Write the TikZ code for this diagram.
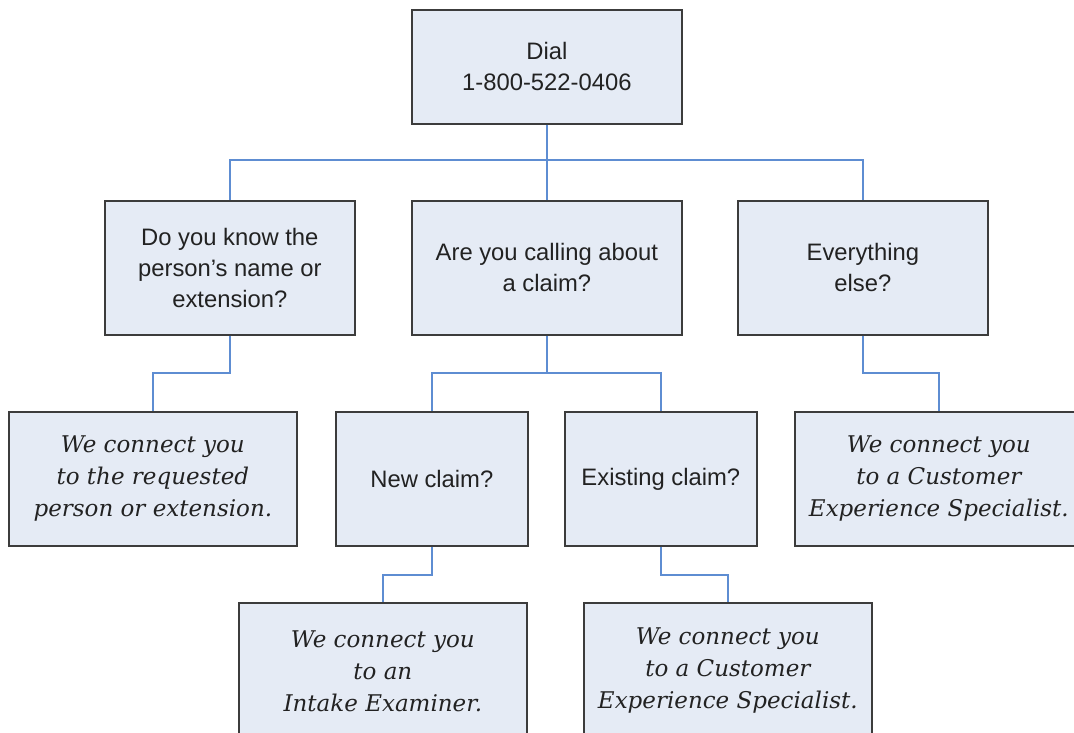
\documentclass[tikz,border=0pt]{standalone}
\usepackage{fontspec}
\setmainfont{Liberation Sans}
\newfontfamily\serifit{DejaVu Serif}
\definecolor{boxfill}{HTML}{E5EBF5}
\definecolor{boxline}{HTML}{3C3C3C}
\definecolor{conn}{HTML}{5E8DD2}
\definecolor{txt}{HTML}{222222}
\begin{document}
\begin{tikzpicture}[x=1pt,y=-1pt,
  box/.style={draw=boxline, fill=boxfill, line width=1.7pt, inner sep=0pt,
    anchor=north west, align=center, text=txt},
  q/.style={box, font=\fontsize{23.8}{31}\selectfont},
  a/.style={box, font=\serifit\itshape\fontsize{23}{32}\selectfont},
  link/.style={draw=conn, line width=1.6pt}]
\fill[white] (0,0) rectangle (1074,733);
\useasboundingbox (0,0) rectangle (1074,733);
\clip (0,0) rectangle (1074,733);
% level 1
\node[q, minimum width=270, minimum height=114] (dial) at (411,9) {Dial\\1-800-522-0406};
% level 2
\node[q, minimum width=250, minimum height=134] (know) at (104,200) {Do you know the\\person's name or\\extension?};
\node[q, minimum width=270, minimum height=134] (claim) at (411,200) {Are you calling about\\a claim?};
\node[q, minimum width=250, minimum height=134] (else) at (737,200) {Everything\\else?};
% level 3
\node[a, minimum width=288, minimum height=134] (req) at (8,411) {We connect you\\to the requested\\person or extension.};
\node[q, minimum width=192, minimum height=134] (new) at (335,411) {New claim?};
\node[q, minimum width=192, minimum height=134] (exist) at (564,411) {Existing claim?};
\node[a, minimum width=288, minimum height=134] (cesR) at (794,411) {We connect you\\to a Customer\\Experience Specialist.};
% level 4
\node[a, minimum width=288, minimum height=136] (intake) at (238,602) {We connect you\\to an\\Intake Examiner.};
\node[a, minimum width=288, minimum height=136] (cesB) at (583,602) {We connect you\\to a Customer\\Experience Specialist.};
% connectors
\draw[link] (dial.south) -- (claim.north);
\draw[link] (know.north) -- ++(0,-40) -| (else.north);
\draw[link] (know.south) -- ++(0,37) -| (req.north);
\draw[link] (claim.south) -- ++(0,37) -| (new.north);
\draw[link] (claim.south) ++(0,37) -| (exist.north);
\draw[link] (else.south) -- ++(0,37) -| (cesR.north);
\draw[link] (new.south) -- ++(0,28) -| (intake.north);
\draw[link] (exist.south) -- ++(0,28) -| (cesB.north);
\end{tikzpicture}
\end{document}
